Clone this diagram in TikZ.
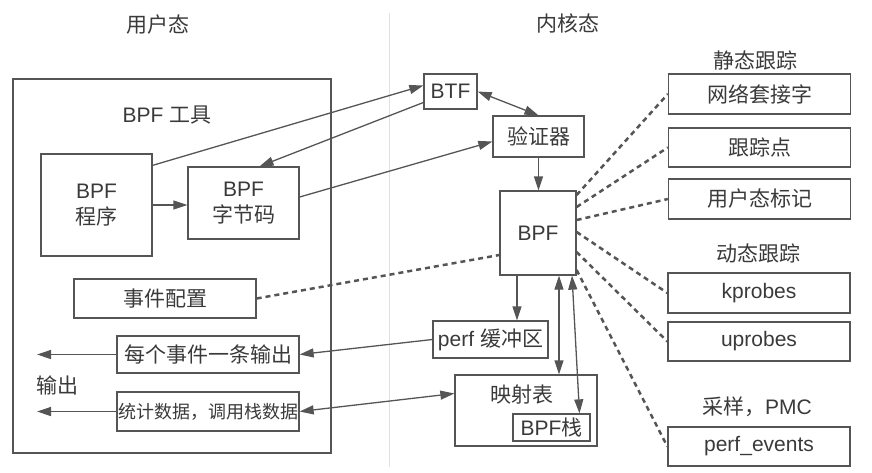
\documentclass[tikz,border=0pt]{standalone}
\usepackage{fontspec}
\setmainfont{Liberation Sans}
\newfontfamily\cjk{Noto Sans CJK SC}
\usepackage{xcolor}
\usepackage{tikz}
\usetikzlibrary{shapes, arrows.meta, positioning}
\definecolor{ink}{HTML}{3A3A3A}
\definecolor{edge}{HTML}{555555}

\begin{document}
\begin{tikzpicture}[x=1pt, y=-1pt, node distance=50pt, font=\fontsize{21}{26}\selectfont, text=ink]
\tikzstyle{box} = [rectangle, draw=edge, line width=1.3pt, inner sep=0pt, text centered]
\tikzstyle{probe} = [box, minimum width=182pt, minimum height=39pt]
\tikzstyle{arrow} = [line width=1.3pt, draw=edge, ->, >={Triangle[length=14pt, width=9pt]}]
\tikzstyle{twoway} = [arrow, <->]
\tikzstyle{probeline} = [line width=2.5pt, draw=edge, dash pattern=on 5pt off 4pt]

\useasboundingbox (0,0) rectangle (872,472);
\draw [black!12, line width=1pt] (389,13) -- (389,467);

\node (user) at (158,25) {\cjk 用户态};
\node (kernel) at (568,23) {\cjk 内核态};

\node (tools) [box, minimum width=318pt, minimum height=374pt] at (172,266) {};
\node (toolslabel) at (167,115) {BPF {\cjk 工具}};
\node (prog) [box, minimum width=111pt, minimum height=102pt, align=center] at (96.5,205) {BPF\\{\cjk 程序}};
\node (bytecode) [box, minimum width=111pt, minimum height=72pt, align=center] at (243.5,203) {BPF\\{\cjk 字节码}};
\node (evcfg) [box, minimum width=182pt, minimum height=39pt] at (165,298.5) {\cjk 事件配置};
\node (perevent) [box, minimum width=182pt, minimum height=37pt] at (208,354.5) {\cjk 每个事件一条输出};
\node (stats) [box, minimum width=182pt, minimum height=39pt, font=\fontsize{18}{22}\selectfont, below of=perevent, node distance=57pt] {\cjk 统计数据，调用栈数据};
\node (outlabel) at (57,385) {\cjk 输出};
\coordinate (out1) at (37,354.5);
\coordinate (out2) at (37,411.5);

\node (btf) [box, minimum width=53pt, minimum height=35pt] at (450.5,91.5) {BTF};
\node (verifier) [box, minimum width=91pt, minimum height=41pt] at (538.5,136.5) {\cjk 验证器};
\node (bpf) [box, minimum width=76pt, minimum height=84pt] at (538,233) {BPF};
\node (perfbuf) [box, minimum width=115pt, minimum height=37pt] at (490.5,339.5) {perf {\cjk 缓冲区}};
\node (maps) [box, minimum width=142pt, minimum height=71pt] at (526,410.5) {};
\node (mapslabel) at (522,395) {\cjk 映射表};
\node (stack) [box, minimum width=77pt, minimum height=27pt] at (551.5,427.5) {BPF{\cjk 栈}};

\node (statlabel) at (755,60) {\cjk 静态跟踪};
\node (sockets) [probe, minimum height=40pt] at (759.5,94) {\cjk 网络套接字};
\node (tracepoints) [probe, below of=sockets, node distance=53.5pt] {\cjk 跟踪点};
\node (usdt) [probe, minimum height=40pt, below of=tracepoints, node distance=51.5pt] {\cjk 用户态标记};
\node (dynlabel) at (758,253) {\cjk 动态跟踪};
\node (kprobes) [probe, minimum height=40pt] at (759,293) {kprobes};
\node (uprobes) [probe, below of=kprobes, node distance=48.5pt] {uprobes};
\node (samplabel) at (757,407) {{\cjk 采样，}PMC};
\node (perfev) [probe] at (759,446.5) {perf\_events};

\draw [arrow] ([yshift=-12pt]prog.north east) -- ([yshift=6pt]btf.west);
\draw [arrow] ([yshift=-11pt]btf.west) -- ([xshift=16pt]bytecode.north);
\draw [arrow] (prog.east) -- (prog.east -| bytecode.west);
\draw [arrow] ([yshift=6pt]bytecode.east) -- ([yshift=-5pt]verifier.west);
\draw [twoway] (btf.east) -- (verifier.north);
\draw [arrow] (verifier.south) -- (verifier.south |- bpf.north);
\draw [arrow] ([xshift=-21pt]bpf.south) -- ([xshift=-21pt]bpf.south |- perfbuf.north);
\draw [twoway] ([xshift=21pt]bpf.south) -- ([xshift=21pt]bpf.south |- maps.north);
\draw [twoway] ([xshift=34pt]bpf.south) -- ([xshift=28pt]stack.north);
\draw [arrow] (perfbuf.west) -- (perevent.east);
\draw [twoway] ([yshift=17pt]maps.west) -- (stats.east);
\draw [arrow] (perevent.west) -- (out1);
\draw [arrow] (stats.west) -- (out2);

\draw [probeline] (evcfg.east) -- ([yshift=-22pt]bpf.west);
\foreach \dy/\target in {38/sockets, 26/tracepoints, 13/usdt, 1/kprobes, -19/uprobes, -37/perfev}
  \draw [probeline] ([yshift=\dy pt]bpf.east) -- (\target.west);

\end{tikzpicture}
\end{document}
